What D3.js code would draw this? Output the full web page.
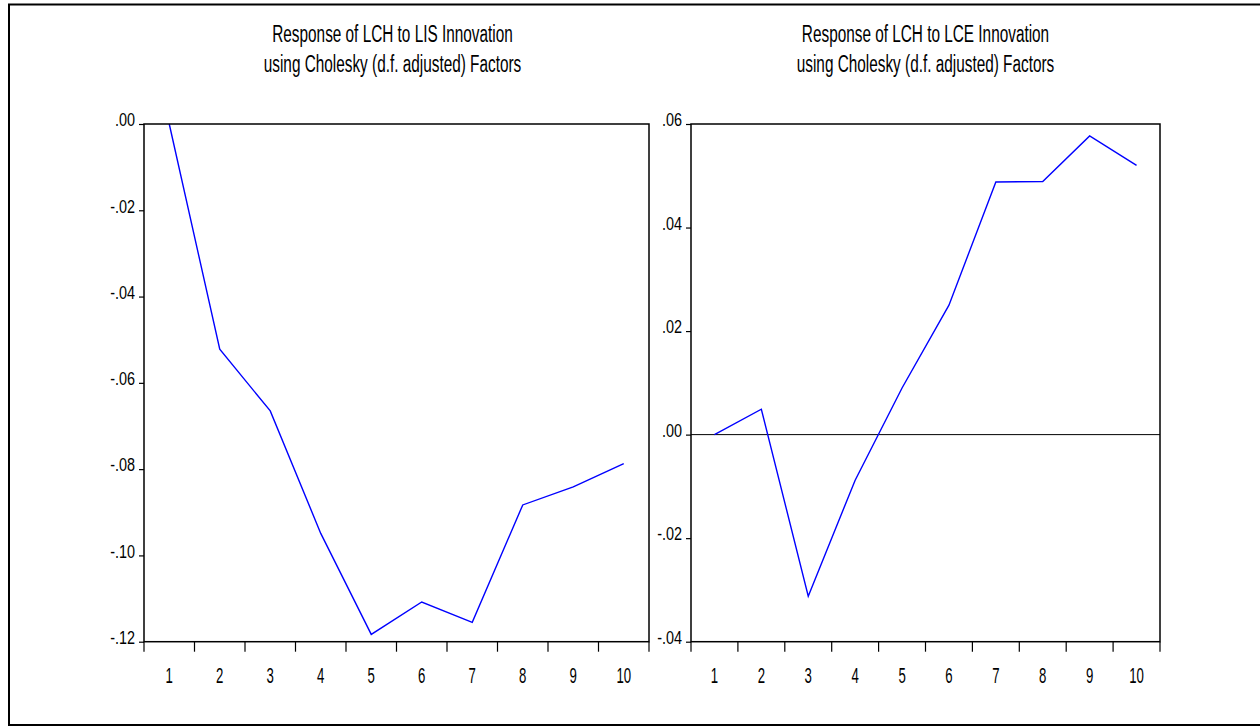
<!DOCTYPE html>
<html>
<head>
<meta charset="utf-8">
<script src="https://cdnjs.cloudflare.com/ajax/libs/d3/7.8.5/d3.min.js"></script>
<style>
  body { margin: 0; background: #fff; }
  text { font-family: "Liberation Sans", Arial, sans-serif; fill: #000; }
</style>
</head>
<body>
<svg width="1260" height="727"></svg>
<script>
"use strict";

// Periods on the x axis
var periods = [1, 2, 3, 4, 5, 6, 7, 8, 9, 10];

// Response of LCH to LIS
var lisResponse = [0.0000, -0.0522, -0.0665, -0.0949, -0.1183, -0.1108, -0.1155, -0.0883, -0.0841, -0.0787];
var lisTicks = [0, -0.02, -0.04, -0.06, -0.08, -0.10, -0.12];
var lisTitle = ["Response of LCH to LIS Innovation", "using Cholesky (d.f. adjusted) Factors"];

// Response of LCH to LCE
var lceResponse = [0.0000, 0.0049, -0.0312, -0.0088, 0.0090, 0.0250, 0.0488, 0.0489, 0.0577, 0.0520];
var lceTicks = [0.06, 0.04, 0.02, 0, -0.02, -0.04];
var lceTitle = ["Response of LCH to LCE Innovation", "using Cholesky (d.f. adjusted) Factors"];

var svg = d3.select("svg");

// Outer frame
svg.append("rect")
    .attr("x", 9)
    .attr("y", 4.5)
    .attr("width", 1262)
    .attr("height", 720.5)
    .attr("fill", "none")
    .attr("stroke", "black")
    .attr("stroke-width", 2);

// squeeze text horizontally (narrow font look)
var condense = function(sel, factor) {
    sel.each(function() {
        var w = this.getComputedTextLength();
        d3.select(this)
            .attr("textLength", w * factor)
            .attr("lengthAdjust", "spacingAndGlyphs");
    });
};

// EViews style: ".02", "-.04"
var fmt = function(v) {
    var s = d3.format(".2f")(v);
    return s.replace("\u2212", "-").replace("0.", ".");
};

var drawPanel = function(left, right, values, ticks, title, domain, zeroLine) {
    var top = 124, bottom = 641.7;

    var x = d3.scaleBand()
        .domain(periods)
        .range([left, right])
        .padding(0);

    var y = d3.scaleLinear()
        .domain(domain)
        .range([bottom, top]);

    var g = svg.append("g").attr("class", "panel");

    // Title
    var t = g.append("g").attr("class", "title");
    title.forEach(function(line, i) {
        t.append("text")
            .attr("x", (left + right) / 2 - (zeroLine ? 0 : 4))
            .attr("y", 41.7 + i * 30)
            .attr("text-anchor", "middle")
            .style("font-size", "23px")
            .text(line);
    });
    condense(t.selectAll("text"), 0.667);

    // Zero line
    if (zeroLine) {
        g.append("line")
            .attr("x1", left)
            .attr("x2", right)
            .attr("y1", y(0))
            .attr("y2", y(0))
            .attr("stroke", "black")
            .attr("stroke-width", 1);
    }

    // Series line
    var line = d3.line()
        .x(function(d, i) { return x(periods[i]) + x.bandwidth() / 2; })
        .y(function(d) { return y(d); });

    g.append("path")
        .datum(values)
        .attr("d", line)
        .attr("fill", "none")
        .attr("stroke", "#0000ff")
        .attr("stroke-width", 1.4);

    // Frame
    g.append("rect")
        .attr("x", left)
        .attr("y", top)
        .attr("width", right - left)
        .attr("height", bottom - top)
        .attr("fill", "none")
        .attr("stroke", "black")
        .attr("stroke-width", 1.5);

    // Y axis
    var yAxis = d3.axisLeft(y)
        .tickValues(ticks)
        .tickSize(5)
        .tickFormat(fmt);

    var ya = g.append("g")
        .attr("transform", "translate(" + left + ",0)")
        .call(yAxis);
    ya.select(".domain").remove();
    ya.selectAll("line").attr("stroke-width", 1.2);
    ya.selectAll("text")
        .attr("x", -9)
        .attr("dy", "0.1em")
        .style("font-size", "18px");
    condense(ya.selectAll("text"), 0.8);

    // X axis: labels at band centres, ticks at band edges
    var xAxis = d3.axisBottom(x).tickSize(0).tickPadding(26);
    var xa = g.append("g")
        .attr("transform", "translate(0," + bottom + ")")
        .call(xAxis);
    xa.select(".domain").remove();
    xa.selectAll("text").style("font-size", "22px");
    condense(xa.selectAll("text"), 0.6);

    var edges = periods.map(function(p) { return x(p); }).concat([right]);
    g.append("g")
        .selectAll("line")
        .data(edges)
        .enter().append("line")
            .attr("x1", function(d) { return d; })
            .attr("x2", function(d) { return d; })
            .attr("y1", bottom)
            .attr("y2", bottom + 10)
            .attr("stroke", "black")
            .attr("stroke-width", 1.2);
};

drawPanel(144, 649, lisResponse, lisTicks, lisTitle, [-0.12, 0], false);
drawPanel(691, 1160, lceResponse, lceTicks, lceTitle, [-0.04, 0.06], true);
</script>
</body>
</html>
